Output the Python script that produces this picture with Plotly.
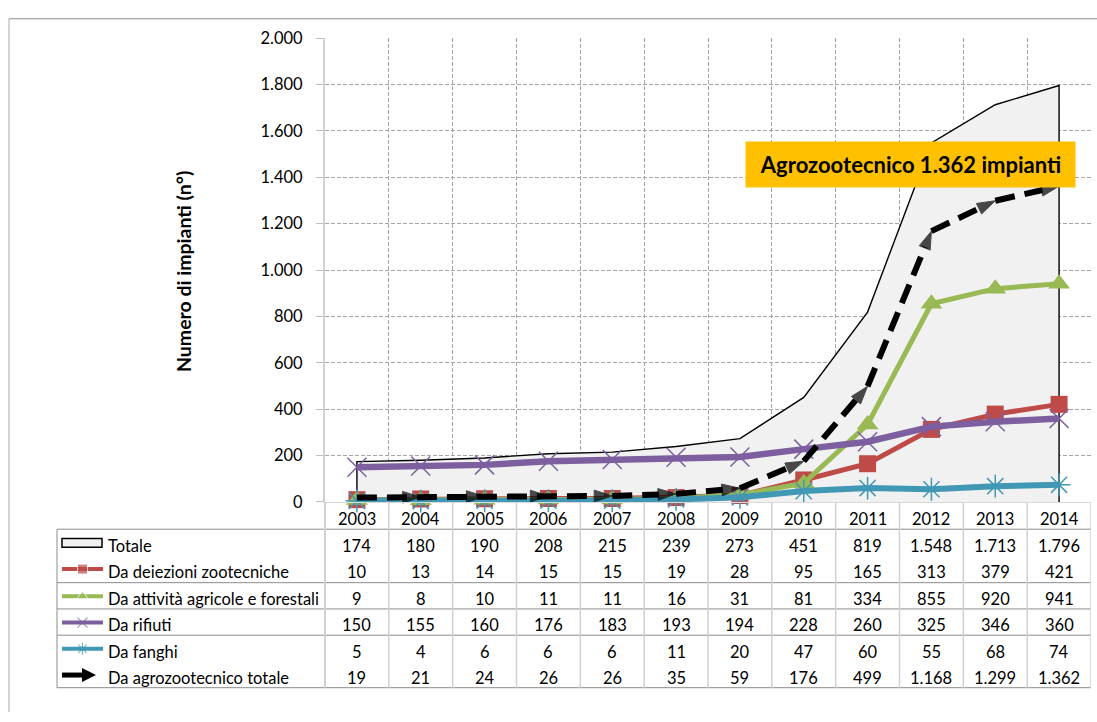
import plotly.graph_objects as go

# ---- data -------------------------------------------------------------
years = list(range(2003, 2015))
totale = [174, 180, 190, 208, 215, 239, 273, 451, 819, 1548, 1713, 1796]
deiezioni = [10, 13, 14, 15, 15, 19, 28, 95, 165, 313, 379, 421]
attivita = [9, 8, 10, 11, 11, 16, 31, 81, 334, 855, 920, 941]
rifiuti = [150, 155, 160, 176, 183, 193, 194, 228, 260, 325, 346, 360]
fanghi = [5, 4, 6, 6, 6, 11, 20, 47, 60, 55, 68, 74]
agro_totale = [19, 21, 24, 26, 26, 35, 59, 176, 499, 1168, 1299, 1362]

y_ticks = list(range(0, 2001, 200))
series_names = [
    "Totale",
    "Da deiezioni zootecniche",
    "Da attività agricole e forestali",
    "Da rifiuti",
    "Da fanghi",
    "Da agrozootecnico totale",
]
y_title = "Numero di impianti (n°)"
callout = "Agrozootecnico 1.362 impianti"

# ---- layout geometry (pixels) -----------------------------------------
W, H = 1097, 722
PL, PR, PT, PB = 325, 1091, 29, 506          # plot area
FONT = "Lato, 'Open Sans', sans-serif"
TXT = 16.5
TEXT_SHIFT = 3   # optical centring of table text

RED = "#BE4B48"
GREEN = "#98B954"
PURPLE = "#7D5FA0"
TEAL = "#4198B5"
FILL = "#F1F1F1"


def fmt(v):
    return f"{v:,}".replace(",", ".")


fig = go.Figure()

# Totale: filled area with black outline, closed down to zero at both ends
fig.add_trace(go.Scatter(
    x=[years[0]] + years + [years[-1]],
    y=[0] + totale + [0],
    mode="lines", fill="toself", fillcolor=FILL,
    line=dict(color="black", width=1.4),
    cliponaxis=False, showlegend=False,
))

fig.add_trace(go.Scatter(
    x=years, y=deiezioni, mode="lines+markers",
    line=dict(color=RED, width=5),
    marker=dict(symbol="square", size=17, color=RED),
    cliponaxis=False, showlegend=False,
))
fig.add_trace(go.Scatter(
    x=years, y=attivita, mode="lines+markers",
    line=dict(color=GREEN, width=5),
    marker=dict(symbol="triangle-up", size=19, color=GREEN),
    cliponaxis=False, showlegend=False,
))
fig.add_trace(go.Scatter(
    x=years, y=rifiuti, mode="lines+markers",
    line=dict(color=PURPLE, width=6.5),
    marker=dict(symbol="x-thin-open", size=19,
                line=dict(color="#8A6DB0", width=1.5)),
    cliponaxis=False, showlegend=False,
))
fig.add_trace(go.Scatter(
    x=years, y=fanghi, mode="lines+markers",
    line=dict(color=TEAL, width=6),
    marker=dict(symbol="asterisk-open", size=19,
                line=dict(color="#4BACC6", width=1.5)),
    cliponaxis=False, showlegend=False,
))
fig.add_trace(go.Scatter(
    x=years, y=agro_totale, mode="lines+markers",
    line=dict(color="black", width=6, dash="20px,10px"),
    marker=dict(symbol="arrow", angleref="previous",
                size=[0] + [19] * (len(years) - 1), color="black",
                line=dict(color="black", width=1)),
    cliponaxis=False, showlegend=False,
))

# ---- data table under the chart --------------------------------------
row_y = [548, 575, 603, 630, 657, 684]
year_row_y = 520
series_values = [totale, deiezioni, attivita, rifiuti, fanghi, agro_totale]

annotations = []
for yr in years:
    annotations.append(dict(
        x=yr, y=year_row_y + TEXT_SHIFT, xref="x", yref="y2", text=str(yr),
        showarrow=False, font=dict(family=FONT, size=TXT, color="black"),
        xanchor="center", yanchor="middle"))

for name, vals, ry in zip(series_names, series_values, row_y):
    annotations.append(dict(
        x=106, y=ry + TEXT_SHIFT, xref="x2", yref="y2", text=name,
        showarrow=False, font=dict(family=FONT, size=TXT, color="black"),
        xanchor="left", yanchor="middle"))
    for yr, v in zip(years, vals):
        annotations.append(dict(
            x=yr, y=ry + TEXT_SHIFT, xref="x", yref="y2", text=fmt(v),
            showarrow=False, font=dict(family=FONT, size=TXT, color="black"),
            xanchor="center", yanchor="middle"))

# legend keys inside the table's first column
key_styles = [
    (RED, "square", 10, None),
    (GREEN, "triangle-up", 10, None),
    (PURPLE, "x-thin-open", 10, "#B9A6D3"),
    (TEAL, "asterisk-open", 10, "#9FD3E3"),
]
for (col, sym, sz, mline), ry in zip(key_styles, row_y[1:5]):
    mk = dict(symbol=sym, size=[0, sz, 0], color=col)
    if mline:
        mk["line"] = dict(color=mline, width=1.2)
    fig.add_trace(go.Scatter(
        x=[62, 82.5, 103], y=[ry] * 3, xaxis="x2", yaxis="y2",
        mode="lines+markers", line=dict(color=col, width=4),
        marker=mk, showlegend=False, hoverinfo="skip"))
fig.add_trace(go.Scatter(
    x=[62, 88], y=[row_y[5]] * 2, xaxis="x2", yaxis="y2", mode="lines",
    line=dict(color="black", width=5), showlegend=False, hoverinfo="skip"))
fig.add_trace(go.Scatter(
    x=[96], y=[row_y[5]], xaxis="x2", yaxis="y2", mode="markers",
    marker=dict(symbol="arrow-right", size=14, color="black"),
    showlegend=False, hoverinfo="skip"))

shapes = []
# Totale key rectangle
shapes.append(dict(type="rect", xref="x2", yref="y2", x0=62, x1=102,
                   y0=row_y[0] - 4.5, y1=row_y[0] + 4.5,
                   line=dict(color="black", width=1.5), fillcolor=FILL))
# horizontal table rules
for hy in [534, 589, 616, 643, 697]:
    shapes.append(dict(type="line", xref="x2", yref="y2", x0=57, x1=PR,
                       y0=hy, y1=hy, line=dict(color="#8C8C8C", width=1)))
# table left border
shapes.append(dict(type="line", xref="x2", yref="y2", x0=57, x1=57,
                   y0=534, y1=697, line=dict(color="#8C8C8C", width=1)))
# column separators below the axis
for b in [y + 0.5 for y in years]:
    shapes.append(dict(type="line", xref="x", yref="y2", x0=b, x1=b,
                       y0=PB + 1, y1=697,
                       line=dict(color="#D0D0D0", width=1.5)))
# y-axis line continued down through the table
shapes.append(dict(type="line", xref="x2", yref="y2", x0=PL, x1=PL,
                   y0=PB, y1=697, line=dict(color="#D0D0D0", width=2)))
# outer chart frame
shapes.append(dict(type="line", xref="x2", yref="y2", x0=9, x1=W,
                   y0=9, y1=9, line=dict(color="#8C8C8C", width=1)))
shapes.append(dict(type="line", xref="x2", yref="y2", x0=9, x1=9,
                   y0=9, y1=H, line=dict(color="#A8A8A8", width=1)))

# y-axis title
annotations.append(dict(
    x=183, y=(PT + PB) / 2 + 2, xref="x2", yref="y2", text=f"<b>{y_title}</b>",
    textangle=-90, showarrow=False,
    font=dict(family=FONT, size=19.5, color="black"),
    xanchor="center", yanchor="middle"))

# callout box
annotations.append(dict(
    x=910.5, y=158.5, xref="x2", yref="y2", text=f"<b>{callout}</b>",
    showarrow=False, bgcolor="#FFC000", width=327, height=43,
    font=dict(family=FONT, size=22, color="black"),
    xanchor="center", yanchor="middle"))

fig.update_layout(
    width=W, height=H,
    margin=dict(l=0, r=0, t=0, b=0),
    paper_bgcolor="white", plot_bgcolor="rgba(0,0,0,0)",
    separators=",.",
    xaxis=dict(
        domain=[PL / W, PR / W], range=[years[0] - 0.5, years[-1] + 0.5],
        tickvals=[y - 0.5 for y in years] + [years[-1] + 0.5],
        showticklabels=False, ticks="",
        showgrid=True, gridcolor="#A6A6A6", gridwidth=1, griddash="4px,2px",
        showline=True, linecolor="#D9D9D9", linewidth=1,
        zeroline=False, fixedrange=True,
    ),
    yaxis=dict(
        domain=[(H - PB) / H, (H - PT) / H], range=[0, 2000],
        tickvals=y_ticks, tickformat=",d",
        ticks="outside", ticklen=7, tickcolor="#BFBFBF",
        ticklabelstandoff=10,
        tickfont=dict(family=FONT, size=TXT, color="black"),
        showgrid=True, gridcolor="#A6A6A6", gridwidth=1, griddash="4px,2px",
        showline=True, linecolor="#D0D0D0", linewidth=2,
        zeroline=False, fixedrange=True,
    ),
    xaxis2=dict(domain=[0, 1], range=[0, W], visible=False,
                anchor="y2", fixedrange=True),
    yaxis2=dict(domain=[0, 1], range=[H, 0], visible=False,
                anchor="x2", fixedrange=True),
    shapes=shapes,
    annotations=annotations,
    showlegend=False,
)

fig.write_html("out.html")
